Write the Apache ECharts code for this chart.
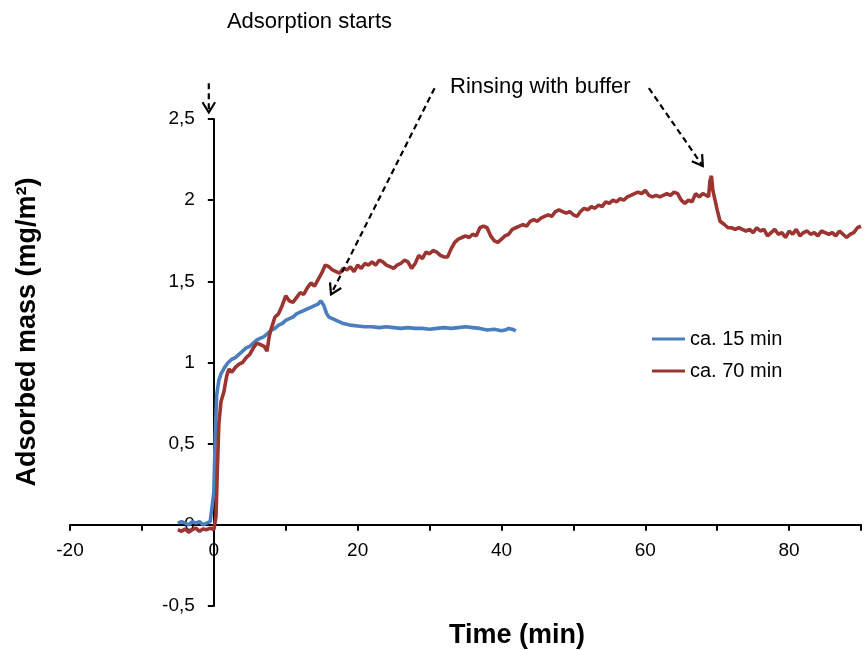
<!DOCTYPE html>
<html>
<head>
<meta charset="utf-8">
<script src="https://cdn.jsdelivr.net/npm/echarts@6/dist/echarts.min.js"></script>
<style>html,body{margin:0;padding:0;background:#fff}#c{width:864px;height:650px}</style>
</head>
<body>
<div id="c"></div>
<script>
const seriesNames = ['ca. 15 min', 'ca. 70 min'];
const xTicks = [-20, 0, 20, 40, 60, 80];
const yTicks = [-0.5, 0, 0.5, 1, 1.5, 2, 2.5];

const blue15 = [[-5,0.01],[-4.5,0.02],[-4,0.01],[-3.5,0.0],[-3,0.02],[-2.5,0.01],[-2,0.02],[-1.5,0.0],[-1,0.01],[-0.5,0.02],[-0.3,0.01],[0,0.2],[0.2,0.55],[0.4,0.8],[0.7,0.89],[1,0.93],[1.5,0.97],[2,1.0],[2.5,1.02],[3,1.03],[3.5,1.05],[4,1.07],[4.5,1.09],[5,1.1],[5.5,1.12],[6,1.14],[6.5,1.15],[7,1.16],[7.5,1.18],[8,1.2],[8.5,1.21],[9,1.23],[9.5,1.24],[10,1.26],[10.5,1.27],[11,1.28],[11.5,1.3],[12,1.31],[12.5,1.32],[13,1.33],[13.5,1.34],[14,1.35],[14.5,1.36],[14.9,1.38],[15.3,1.35],[15.7,1.3],[16,1.28],[16.5,1.27],[17,1.26],[17.5,1.25],[18,1.24],[18.5,1.235],[19,1.23],[20,1.225],[21,1.22],[22,1.22],[23,1.215],[24,1.22],[25,1.215],[26,1.21],[27,1.215],[28,1.21],[29,1.21],[30,1.205],[31,1.21],[32,1.215],[33,1.21],[34,1.215],[35,1.22],[36,1.215],[37,1.21],[38,1.2],[39,1.205],[40,1.195],[40.5,1.2],[41,1.21],[41.5,1.205],[42,1.195]];

const red70 = [[-5,-0.03],[-4.5,-0.04],[-4,-0.025],[-3.5,-0.045],[-3,-0.03],[-2.5,-0.02],[-2,-0.04],[-1.5,-0.025],[-1,-0.03],[-0.5,-0.02],[0,-0.03],[0.3,0.05],[0.5,0.35],[0.7,0.62],[1,0.76],[1.4,0.82],[1.8,0.92],[2.1,0.96],[2.5,0.94],[3,0.97],[3.5,0.99],[4,1.0],[4.5,1.03],[5,1.05],[5.5,1.09],[6,1.12],[6.5,1.11],[7,1.1],[7.4,1.07],[7.7,1.16],[8,1.21],[8.5,1.28],[9,1.3],[9.5,1.35],[10,1.41],[10.5,1.38],[11,1.37],[11.5,1.4],[12,1.43],[12.5,1.42],[13,1.46],[13.5,1.49],[14,1.47],[14.5,1.51],[15,1.55],[15.5,1.6],[16,1.59],[16.5,1.57],[17,1.56],[17.5,1.55],[18,1.58],[18.5,1.57],[19,1.59],[19.5,1.56],[20,1.6],[20.5,1.58],[21,1.61],[21.5,1.6],[22,1.62],[22.5,1.6],[23,1.63],[23.5,1.62],[24,1.6],[24.5,1.59],[25,1.58],[25.5,1.6],[26,1.61],[26.5,1.63],[27,1.62],[27.5,1.58],[28,1.61],[28.5,1.66],[29,1.64],[29.5,1.68],[30,1.67],[30.5,1.69],[31,1.68],[31.5,1.66],[32,1.65],[32.5,1.65],[33,1.7],[33.5,1.74],[34,1.76],[34.5,1.77],[35,1.78],[35.5,1.77],[36,1.79],[36.5,1.78],[37,1.83],[37.5,1.84],[38,1.83],[38.5,1.78],[39,1.75],[39.5,1.74],[40,1.76],[40.5,1.78],[41,1.79],[41.5,1.82],[42,1.83],[42.5,1.84],[43,1.85],[43.5,1.84],[44,1.87],[44.5,1.88],[45,1.87],[45.5,1.89],[46,1.9],[46.5,1.91],[47,1.9],[47.5,1.93],[48,1.94],[48.5,1.93],[49,1.92],[49.5,1.93],[50,1.91],[50.5,1.9],[51,1.93],[51.5,1.95],[52,1.94],[52.5,1.96],[53,1.95],[53.5,1.97],[54,1.96],[54.5,1.99],[55,1.98],[55.5,2.0],[56,1.99],[56.5,2.01],[57,2.0],[57.5,2.02],[58,2.03],[58.5,2.04],[59,2.05],[59.5,2.04],[60,2.06],[60.5,2.03],[61,2.02],[61.5,2.03],[62,2.02],[62.5,2.03],[63,2.04],[63.5,2.03],[64,2.05],[64.5,2.04],[65,2.0],[65.5,1.98],[66,2.0],[66.5,1.99],[67,2.04],[67.5,2.02],[68,2.04],[68.5,2.03],[68.8,2.02],[69,2.12],[69.2,2.15],[69.4,2.06],[69.7,2.0],[70,1.94],[70.4,1.87],[71,1.85],[71.5,1.83],[72,1.83],[72.5,1.82],[73,1.83],[73.5,1.82],[74,1.81],[74.5,1.82],[75,1.8],[75.5,1.83],[76,1.81],[76.5,1.82],[77,1.78],[77.5,1.8],[78,1.82],[78.5,1.79],[79,1.8],[79.5,1.77],[80,1.81],[80.5,1.79],[81,1.82],[81.5,1.78],[82,1.8],[82.5,1.81],[83,1.79],[83.5,1.8],[84,1.78],[84.5,1.81],[85,1.8],[85.5,1.79],[86,1.8],[86.5,1.78],[87,1.81],[87.5,1.79],[88,1.77],[88.5,1.79],[89,1.8],[89.5,1.83],[90,1.84]];

// annotation anchors in data coordinates
const annStartText = [13.3, 3.1];
const annStartArrow = [[-0.7, 2.72], [-0.7, 2.54]];
const annRinseText = [45.4, 2.7];
const annRinseArrow1 = [[30.7, 2.69], [16.3, 1.42]];
const annRinseArrow2 = [[60.5, 2.69], [68.0, 2.21]];

const FONT = '"Liberation Sans", Arial, sans-serif';
const GRID = { left: 70, right: 0, top: 119, bottom: 44 };
const chart = echarts.init(document.getElementById('c'));
chart.setOption({
  animation: false,
  backgroundColor: '#fff',
  grid: Object.assign({ containLabel: false }, GRID),
  legend: {
    orient: 'vertical', left: 652, top: 329, padding: 0,
    icon: 'rect', itemWidth: 33, itemHeight: 3, itemGap: 12,
    textStyle: { fontSize: 20, color: '#000', fontFamily: FONT, lineHeight: 20 },
    data: seriesNames
  },
  xAxis: {
    type: 'value', min: -20, max: 90, interval: 10,
    axisLine: { onZero: true, lineStyle: { color: '#000', width: 2 } },
    axisTick: { show: true, length: 6, inside: false, lineStyle: { color: '#000', width: 2 } },
    axisLabel: {
      fontSize: 19, color: '#000', fontFamily: FONT, margin: 14,
      formatter: v => xTicks.indexOf(v) >= 0 ? String(v) : ''
    },
    splitLine: { show: false }
  },
  yAxis: {
    type: 'value', min: -0.5, max: 2.5, interval: 0.5,
    axisLine: { show: true, onZero: true, lineStyle: { color: '#000', width: 2 } },
    axisTick: { show: true, length: 6, lineStyle: { color: '#000', width: 2 } },
    axisLabel: {
      fontSize: 19, color: '#000', fontFamily: FONT, margin: 12,
      formatter: v => yTicks.indexOf(v) >= 0 ? String(v).replace('.', ',') : ''
    },
    splitLine: { show: false }
  },
  series: [
    { name: seriesNames[0], type: 'line', data: blue15, showSymbol: false, symbol: 'none',
      lineStyle: { color: '#4a7ebf', width: 3.6 }, itemStyle: { color: '#4a7ebf' } },
    { name: seriesNames[1], type: 'line', data: red70, showSymbol: false, symbol: 'none',
      lineStyle: { color: '#9c3431', width: 3.6 }, itemStyle: { color: '#9c3431' } }
  ]
});

function px(p) { return chart.convertToPixel({ gridIndex: 0 }, p); }

// place tick labels next to the zero-crossing axis lines
const origin = px([0, 0]);
const H = 650;
const xLabelMargin = (origin[1] + 16) - (H - GRID.bottom);
const yLabelMargin = GRID.left - (origin[0] - 19);
chart.setOption({
  xAxis: { axisLabel: { margin: xLabelMargin } },
  yAxis: { axisLabel: { margin: yLabelMargin } }
});

function arrow(a, b) {
  const p0 = px(a), p1 = px(b);
  const ang = Math.atan2(p1[1] - p0[1], p1[0] - p0[0]);
  const L = 12, s = 0.55;
  const l = [p1[0] - L * Math.cos(ang - s), p1[1] - L * Math.sin(ang - s)];
  const r = [p1[0] - L * Math.cos(ang + s), p1[1] - L * Math.sin(ang + s)];
  return [
    { type: 'line', shape: { x1: p0[0], y1: p0[1], x2: p1[0], y2: p1[1] },
      style: { stroke: '#000', lineWidth: 2.2, lineDash: [6, 4] }, z: 10 },
    { type: 'polyline', shape: { points: [l, p1, r] },
      style: { stroke: '#000', lineWidth: 2.2, fill: null }, z: 10 }
  ];
}
function dataLabel(p, text, size) {
  const q = px(p);
  return { type: 'text', x: q[0], y: q[1], z: 10,
    style: { text: text, fill: '#000', font: size + 'px ' + FONT,
      textAlign: 'center', textVerticalAlign: 'middle' } };
}
const g = [].concat(
  arrow(annStartArrow[0], annStartArrow[1]),
  arrow(annRinseArrow1[0], annRinseArrow1[1]),
  arrow(annRinseArrow2[0], annRinseArrow2[1]),
  [ dataLabel(annStartText, 'Adsorption starts', 22),
    dataLabel(annRinseText, 'Rinsing with buffer', 22),
    { type: 'text', x: 517, y: 636, z: 10,
      style: { text: 'Time (min)', fill: '#000', font: 'bold 27px ' + FONT, textAlign: 'center', textVerticalAlign: 'middle' } },
    { type: 'text', x: 28, y: 332, rotation: Math.PI / 2, z: 10,
      style: { text: 'Adsorbed mass (mg/m²)', fill: '#000', font: 'bold 27px ' + FONT, textAlign: 'center', textVerticalAlign: 'middle' } }
  ]
);
chart.setOption({ graphic: g });
</script>
</body>
</html>
